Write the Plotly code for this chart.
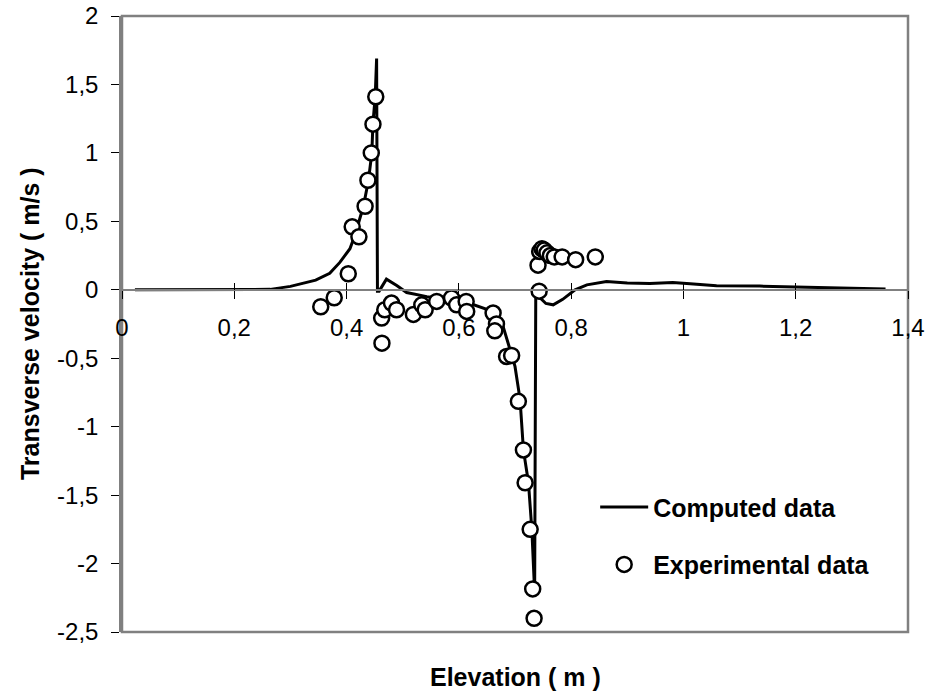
import plotly.graph_objects as go

# Computed data (line)
comp_x = [0.023, 0.10, 0.20, 0.264, 0.30, 0.317, 0.345, 0.37, 0.388, 0.406, 0.415, 0.43, 0.439,
          0.445, 0.447, 0.451, 0.4535, 0.455, 0.458, 0.471, 0.49, 0.507, 0.543, 0.58, 0.62,
          0.655, 0.667, 0.679, 0.691, 0.700, 0.709, 0.715, 0.724, 0.730, 0.735, 0.737, 0.745,
          0.755, 0.768, 0.785, 0.807, 0.828, 0.863, 0.90, 0.94, 0.981, 1.012, 1.059, 1.136,
          1.20, 1.30, 1.36]
comp_y = [0.0, 0.0, 0.0, 0.003, 0.025, 0.04, 0.07, 0.12, 0.20, 0.30, 0.40, 0.61, 0.80,
          1.0, 1.22, 1.41, 1.69, -0.01, -0.01, 0.078, 0.03, -0.02, -0.05, -0.07, -0.10,
          -0.15, -0.18, -0.27, -0.44, -0.56, -0.80, -1.17, -1.41, -1.75, -2.21, -0.01, -0.06,
          -0.10, -0.11, -0.07, 0.0, 0.036, 0.06, 0.05, 0.045, 0.053, 0.044, 0.029, 0.027,
          0.022, 0.012, 0.005]

# Experimental data (markers)
exp_x = [0.354, 0.378, 0.403, 0.410, 0.422, 0.433, 0.438, 0.444, 0.447, 0.452, 0.4625, 0.463,
         0.468, 0.480, 0.489, 0.519, 0.534, 0.540, 0.5605, 0.587, 0.596, 0.613, 0.614, 0.661,
         0.667, 0.664, 0.685, 0.694, 0.706, 0.715, 0.718, 0.727, 0.7315, 0.734, 0.743, 0.741,
         0.744, 0.748, 0.752, 0.757, 0.763, 0.770, 0.784, 0.808, 0.843]
exp_y = [-0.124, -0.058, 0.117, 0.46, 0.387, 0.61, 0.80, 1.0, 1.21, 1.41, -0.207, -0.39,
         -0.146, -0.097, -0.146, -0.18, -0.11, -0.146, -0.085, -0.06, -0.11, -0.085, -0.158,
         -0.17, -0.25, -0.30, -0.487, -0.48, -0.815, -1.17, -1.41, -1.75, -2.185, -2.40,
         -0.01, 0.18, 0.28, 0.30, 0.29, 0.27, 0.25, 0.24, 0.24, 0.22, 0.24]

x_tickvals = [0, 0.2, 0.4, 0.6, 0.8, 1.0, 1.2, 1.4]
x_ticktext = ["0", "0,2", "0,4", "0,6", "0,8", "1", "1,2", "1,4"]
y_tickvals = [-2.5, -2, -1.5, -1, -0.5, 0, 0.5, 1, 1.5, 2]
y_ticktext = ["-2,5", "-2", "-1,5", "-1", "-0,5", "0", "0,5", "1", "1,5", "2"]

FONT = "Liberation Sans, Arial, sans-serif"
GRAY = "#808080"

fig = go.Figure()
fig.add_trace(go.Scatter(
    x=comp_x, y=comp_y, mode="lines", name="Computed data",
    line=dict(color="black", width=3), legendgroup="a"))
fig.add_trace(go.Scatter(
    x=exp_x, y=exp_y, mode="markers", name="Experimental data",
    marker=dict(symbol="circle", size=15, color="white",
                line=dict(color="black", width=2.5)), legendgroup="b"))
# invisible trace to carry the upward half of the crossing x ticks
fig.add_trace(go.Scatter(x=[0.7], y=[0], xaxis="x2", mode="markers",
                         marker=dict(opacity=0), showlegend=False, hoverinfo="skip"))

ypos = 2.5 / 4.5

fig.update_layout(
    width=944, height=696,
    margin=dict(l=122, r=36, t=16, b=64, autoexpand=False),
    paper_bgcolor="white", plot_bgcolor="white",
    font=dict(family=FONT, size=24, color="black"),
    showlegend=True,
    legend=dict(x=0.602, y=0.24, xanchor="left", yanchor="top",
                bgcolor="rgba(0,0,0,0)", borderwidth=0,
                font=dict(family=FONT, size=25, color="black", weight="bold"),
                tracegroupgap=22, itemwidth=48),
    xaxis=dict(range=[0, 1.4], tickvals=x_tickvals, ticktext=x_ticktext,
               anchor="free", position=ypos, showline=True, linecolor=GRAY, linewidth=1.5,
               ticks="outside", ticklen=8, tickwidth=1, tickcolor="black",
               ticklabelstandoff=9, showgrid=False, zeroline=False, automargin=False,
               tickfont=dict(family=FONT, size=24, color="black")),
    xaxis2=dict(range=[0, 1.4], tickvals=x_tickvals, overlaying="x", anchor="free",
                position=ypos, side="bottom", showline=False, ticks="inside", ticklen=7,
                tickwidth=1, tickcolor="black", showticklabels=False, showgrid=False,
                zeroline=False, automargin=False),
    yaxis=dict(range=[-2.5, 2], tickvals=y_tickvals, ticktext=y_ticktext,
               showline=True, linecolor=GRAY, linewidth=2.5,
               ticks="outside", ticklen=8, tickwidth=1, tickcolor="black",
               ticklabelstandoff=8, showgrid=False, zeroline=False, automargin=False,
               tickfont=dict(family=FONT, size=24, color="black")),
    shapes=[dict(type="rect", xref="paper", yref="paper", x0=0, x1=1, y0=0, y1=1,
                 line=dict(color=GRAY, width=2.5), layer="below")],
    annotations=[
        dict(text="<b>Elevation ( m )</b>", xref="paper", yref="paper",
             x=0.5, y=-0.073, xanchor="center", yanchor="middle", showarrow=False,
             font=dict(family=FONT, size=25, color="black")),
        dict(text="<b>Transverse velocity ( m/s )</b>", xref="paper", yref="paper",
             x=-0.117, y=0.5, xanchor="center", yanchor="middle", textangle=-90,
             showarrow=False, font=dict(family=FONT, size=25, color="black")),
    ],
)

fig.write_html("out.html", config={"displayModeBar": False},
               post_script="document.body.style.margin='0';")
